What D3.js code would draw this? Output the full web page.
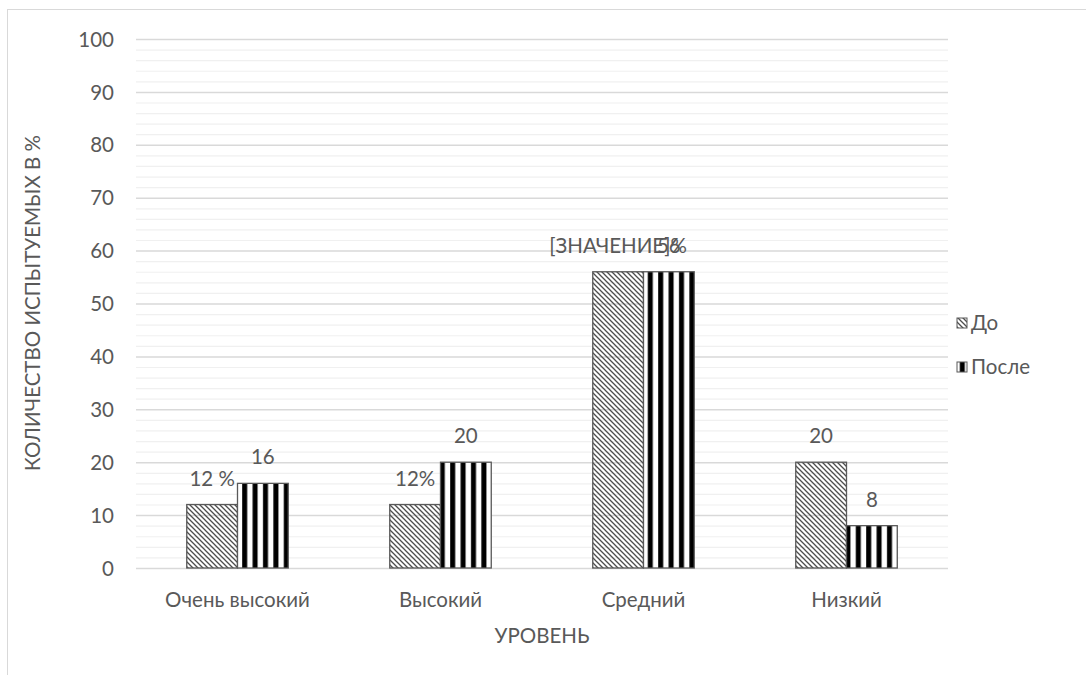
<!DOCTYPE html>
<html><head><meta charset="utf-8">
<script src="https://cdn.jsdelivr.net/npm/d3@7"></script>
<style>body{margin:0;background:#fff}svg{display:block}text{font-family:Lato,"Open Sans",sans-serif;fill:#595959}</style>
</head><body><svg id="c" width="1086" height="675"></svg>
<script>
const categories = ["Очень высокий","Высокий","Средний","Низкий"];
const seriesNames = ["До","После"];
const valuesBefore = [12,12,56,20];
const valuesAfter = [16,20,56,8];
const labelsBefore = ["12 %","12%","[ЗНАЧЕНИЕ]%","20"];
const labelsAfter = ["16","20","56","8"];
const yTicks = [0,10,20,30,40,50,60,70,80,90,100];
const yMinor = d3.range(0,101,2);
const FS = 20.5;

const svg = d3.select("#c");
const defs = svg.append("defs");
const pb = defs.append("pattern").attr("id","pBefore").attr("patternUnits","userSpaceOnUse").attr("width",5).attr("height",5);
pb.append("path").attr("d","M-1,-1 L6,6 M-1,4 L1,6 M4,-1 L6,1").attr("stroke","#4d4d4d").attr("stroke-width",1.3);
const pa = defs.append("pattern").attr("id","pAfter").attr("patternUnits","userSpaceOnUse").attr("width",10.4).attr("height",10);
pa.append("rect").attr("width",10.4).attr("height",10).attr("fill","#fff");
pa.append("rect").attr("x",3).attr("width",5).attr("height",10).attr("fill","#000");

svg.append("rect").attr("x",7.5).attr("y",9.5).attr("width",1200).attr("height",800).attr("fill","none").attr("stroke","#d9d9d9");

const x = d3.scaleBand().domain(categories).range([136,948]);
const y = d3.scaleLinear().domain([0,100]).range([568,39]);
const xs = d3.scaleBand().domain(seriesNames).range([x.bandwidth()*0.25,x.bandwidth()*0.75]).padding(0);

svg.append("g").selectAll("line").data(yMinor.filter(d=>d%10!==0)).join("line")
 .attr("x1",136).attr("x2",948).attr("y1",d=>y(d)+0.5).attr("y2",d=>y(d)+0.5).attr("stroke","#f0f0f0").attr("stroke-width",1.2);
svg.append("g").selectAll("line").data(yTicks).join("line")
 .attr("x1",136).attr("x2",948).attr("y1",d=>y(d)+0.5).attr("y2",d=>y(d)+0.5).attr("stroke","#d9d9d9").attr("stroke-width",1.5);

const yAxis = svg.append("g").attr("transform","translate(114,0)").call(d3.axisLeft(y).tickValues(yTicks).tickSize(0).tickPadding(0));
yAxis.select(".domain").remove();
yAxis.attr("font-size",null).attr("font-family",null);
yAxis.selectAll("text").attr("font-size",FS).attr("fill","#595959").attr("dy","0.35em");

const series = [{name:"До",vals:valuesBefore,labels:labelsBefore,fill:"url(#pBefore)"},{name:"После",vals:valuesAfter,labels:labelsAfter,fill:"url(#pAfter)"}];
series.forEach(s=>{
  const g = svg.append("g");
  g.selectAll("rect").data(categories).join("rect")
   .attr("x",(c)=>x(c)+xs(s.name)).attr("width",xs.bandwidth())
   .attr("y",(c,i)=>y(s.vals[i])).attr("height",(c,i)=>y(0)-y(s.vals[i]))
   .attr("fill",s.fill).attr("stroke","#595959").attr("stroke-width",1.3);
  g.selectAll("text").data(categories).join("text")
   .attr("x",(c)=>x(c)+xs(s.name)+xs.bandwidth()/2).attr("y",(c,i)=>y(s.vals[i])-19)
   .attr("text-anchor","middle").attr("font-size",FS).text((c,i)=>s.labels[i]);
});

const xAxis = svg.append("g").attr("transform","translate(0,"+y(0)+")").call(d3.axisBottom(x).tickSize(0).tickPadding(0));
xAxis.select(".domain").remove();
xAxis.attr("font-size",null).attr("font-family",null);
xAxis.selectAll("text").attr("font-size",FS).attr("fill","#595959").attr("dy",null).attr("y",39);

svg.append("text").attr("x",542).attr("y",643).attr("text-anchor","middle").attr("font-size",FS).text("УРОВЕНЬ");
svg.append("text").attr("transform","translate(40,303) rotate(-90)").attr("text-anchor","middle").attr("font-size",FS).text("КОЛИЧЕСТВО ИСПЫТУЕМЫХ В %");

const lg = svg.append("g");
series.forEach((s,i)=>{
  const yy = 323 + i*44;
  lg.append("rect").attr("x",957).attr("y",yy-5).attr("width",10).attr("height",10).attr("fill",s.fill).attr("stroke","#595959");
  lg.append("text").attr("x",971).attr("y",yy+7).attr("font-size",FS).text(s.name);
});
</script></body></html>
